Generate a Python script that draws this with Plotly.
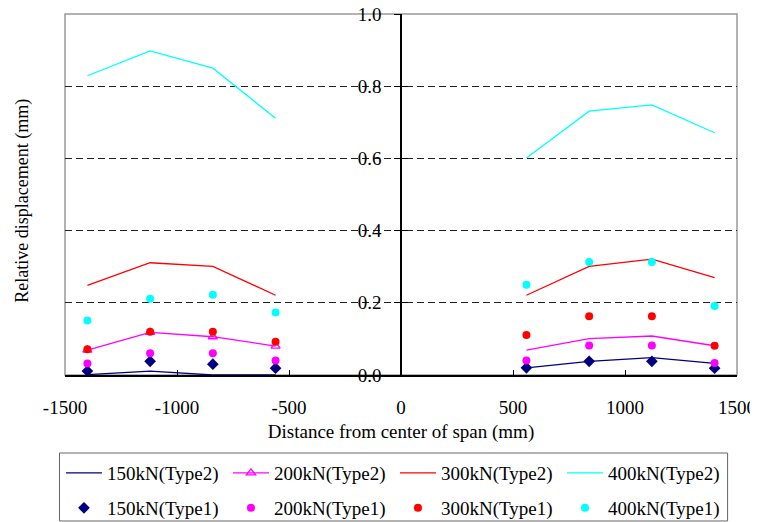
import plotly.graph_objects as go

# ---- data ----
x_left = [-1400, -1120, -840, -560]
x_right = [560, 840, 1120, 1400]

# Type2 (lines)
t2_150_left = [0.001, 0.011, 0.0, 0.0]
t2_150_right = [0.020, 0.038, 0.048, 0.032]
t2_200_left = [0.069, 0.118, 0.106, 0.080]
t2_200_right = [0.069, 0.101, 0.108, 0.081]
t2_300_left = [0.248, 0.311, 0.301, 0.221]
t2_300_right = [0.221, 0.301, 0.321, 0.270]
t2_400_left = [0.829, 0.898, 0.850, 0.711]
t2_400_right = [0.601, 0.731, 0.748, 0.671]

# Type1 (markers)
t1_150_left = [0.011, 0.038, 0.030, 0.019]
t1_150_right = [0.020, 0.038, 0.038, 0.019]
t1_200_left = [0.032, 0.060, 0.060, 0.040]
t1_200_right = [0.040, 0.082, 0.082, 0.033]
t1_300_left = [0.071, 0.120, 0.120, 0.092]
t1_300_right = [0.111, 0.163, 0.163, 0.081]
t1_400_left = [0.151, 0.211, 0.222, 0.173]
t1_400_right = [0.250, 0.313, 0.313, 0.191]

x_tick_vals = [-1500, -1000, -500, 0, 500, 1000, 1500]
x_tick_text = ["-1500", "-1000", "-500", "0", "500", "1000", "1500"]

names_t2 = ["150kN(Type2)", "200kN(Type2)", "300kN(Type2)", "400kN(Type2)"]
names_t1 = ["150kN(Type1)", "200kN(Type1)", "300kN(Type1)", "400kN(Type1)"]
colors = ["#000080", "#FF00FF", "#FF0000", "#00FFFF"]

FONT = "Liberation Serif"

fig = go.Figure()

t2_sets = [
    (t2_150_left, t2_150_right),
    (t2_200_left, t2_200_right),
    (t2_300_left, t2_300_right),
    (t2_400_left, t2_400_right),
]
t1_sets = [
    (t1_150_left, t1_150_right),
    (t1_200_left, t1_200_right),
    (t1_300_left, t1_300_right),
    (t1_400_left, t1_400_right),
]

for i, (yl, yr) in enumerate(t2_sets):
    is_tri = (i == 1)
    fig.add_trace(go.Scatter(
        x=x_left, y=yl, name=names_t2[i], legendgroup=names_t2[i],
        mode="lines+markers" if is_tri else "lines",
        line=dict(color=colors[i], width=1.3),
        marker=dict(symbol="triangle-up-open", size=8, color=colors[i],
                    line=dict(width=1.3, color=colors[i])),
        showlegend=True, legend="legend",
    ))
    fig.add_trace(go.Scatter(
        x=x_right, y=yr, name=names_t2[i], legendgroup=names_t2[i],
        mode="lines", line=dict(color=colors[i], width=1.3),
        showlegend=False, legend="legend",
    ))

for i, (yl, yr) in enumerate(t1_sets):
    sym = "diamond" if i == 0 else "circle"
    sz = 9 if i == 0 else 8
    fig.add_trace(go.Scatter(
        x=x_left + x_right, y=yl + yr, name=names_t1[i],
        mode="markers",
        marker=dict(symbol=sym, size=sz, color=colors[i], line=dict(width=0)),
        showlegend=True, legend="legend2",
    ))

# dummy invisible trace for yaxis2 (cross ticks at x=0)
fig.add_trace(go.Scatter(x=[0], y=[0], yaxis="y2", mode="markers",
                         marker=dict(opacity=0), showlegend=False, hoverinfo="skip"))

leg_common = dict(
    orientation="h", xanchor="left", yanchor="top",
    borderwidth=0, bgcolor="rgba(0,0,0,0)",
    font=dict(family=FONT, size=19, color="black"),
    entrywidth=116, entrywidthmode="pixels", itemwidth=36,
    traceorder="normal",
)

# page body has an 8px margin, so the figure is sized/offset accordingly
fig.update_layout(
    width=750, height=514,
    margin=dict(l=56.5, r=20.7, t=6, b=147, autoexpand=False),
    paper_bgcolor="white", plot_bgcolor="white",
    font=dict(family=FONT, size=19, color="black"),
    showlegend=True,
    legend=dict(x=-0.006, y=-0.2188, **leg_common),
    legend2=dict(x=-0.006, y=-0.3158, **leg_common),
    xaxis=dict(
        range=[-1500, 1500], tickvals=x_tick_vals, ticktext=x_tick_text,
        showgrid=False, zeroline=False, automargin=False,
        ticklabeloverflow="allow",
        showline=True, linecolor="black", linewidth=1.5,
        ticks="inside", ticklen=5, tickcolor="black",
        ticklabelstandoff=14,
        title=dict(text="Distance from center of span (mm)", standoff=8,
                   font=dict(family=FONT, size=19)),
    ),
    yaxis=dict(
        range=[0, 1], dtick=0.2, tickformat=".1f",
        anchor="free", position=0.5, automargin=False,
        ticklabeloverflow="allow",
        showgrid=True, gridcolor="#222222", gridwidth=1, griddash="7px,4px",
        zeroline=False,
        showline=True, linecolor="black", linewidth=1.5,
        ticks="outside", ticklen=6, tickcolor="black",
        ticklabelstandoff=9,
    ),
    yaxis2=dict(
        range=[0, 1], dtick=0.2, overlaying="y",
        anchor="free", position=0.5, automargin=False,
        showgrid=False, zeroline=False, showline=False,
        ticks="inside", ticklen=6, tickcolor="black",
        showticklabels=False,
    ),
    shapes=[
        dict(type="rect", xref="paper", yref="paper", x0=0, x1=1, y0=0, y1=1,
             line=dict(color="#999999", width=1.5), layer="below"),
        dict(type="rect", xref="paper", yref="paper", x0=-0.0082, x1=0.986,
             y0=-0.4044, y1=-0.2161, line=dict(color="#666666", width=1),
             layer="below"),
    ],
    annotations=[dict(text="Relative displacement (mm)", xref="paper", yref="paper",
                      x=-0.063, y=0.482, textangle=-90, showarrow=False,
                      xanchor="center", yanchor="middle",
                      font=dict(family=FONT, size=18, color="black"))],
)

fig.write_html("out.html")
